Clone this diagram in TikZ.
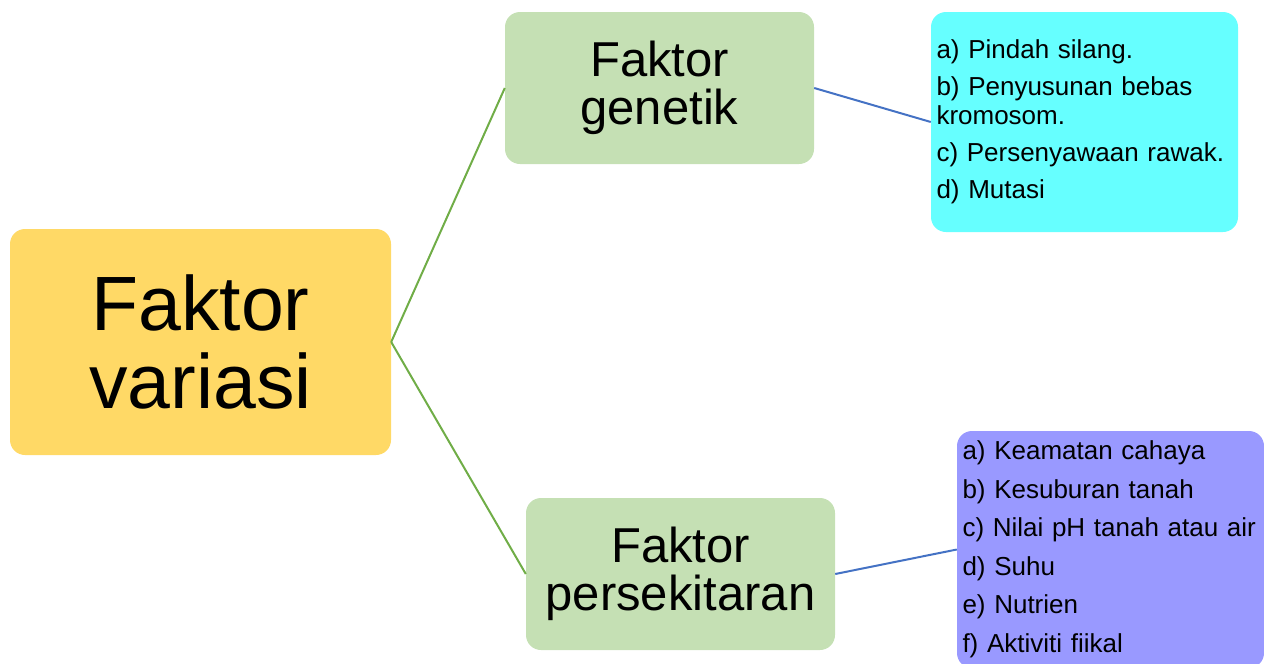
\documentclass[tikz,border=0pt]{standalone}
\usepackage{fontspec}
\setmainfont{Liberation Sans}
\usepackage{tikz}
\definecolor{mainFill}{HTML}{FFD966}
\definecolor{subFill}{HTML}{C5E0B4}
\definecolor{genFill}{HTML}{66FFFF}
\definecolor{envFill}{HTML}{9999FF}
\definecolor{lnGreen}{HTML}{70AD47}
\definecolor{lnBlue}{HTML}{4472C4}
\newcommand{\fsz}[2]{\fontsize{#1}{#2}\selectfont}
\begin{document}
\begin{tikzpicture}[x=1pt, y=-1pt, box/.style={rounded corners=15pt, inner sep=0pt, align=center}, lst/.style={rounded corners=15pt, inner xsep=5.5pt, inner ysep=0pt, align=left, text width=296pt}, lnk/.style={line width=2pt}]
\useasboundingbox (0,0) rectangle (1264,664);
\node[box, fill=mainFill, minimum width=381pt, minimum height=226pt, font=\fsz{77}{78}] (var) at (200.5,342) {Faktor\\variasi};
\node[box, fill=subFill, minimum width=309pt, minimum height=152pt, font=\fsz{49}{48}] (gen) at (659.5,88) {Faktor\\genetik};
\node[box, fill=subFill, minimum width=309pt, minimum height=152pt, font=\fsz{49}{48}] (env) at (680.5,574) {Faktor\\persekitaran};
\node[lst, fill=genFill, minimum height=220pt, font=\fsz{26}{29}] (genl) at (1084.5,122) {a) Pindah silang.\\[8pt]b) Penyusunan bebas\\kromosom.\\[8pt]c) Persenyawaan rawak.\\[8pt]d) Mutasi};
\node[lst, fill=envFill, minimum height=237pt, font=\fsz{26}{38.5}] (envl) at (1110.5,549.5) {a) Keamatan cahaya\\b) Kesuburan tanah\\c) Nilai pH tanah atau air\\d) Suhu\\e) Nutrien\\f) Aktiviti fiikal};
\draw[lnk, lnGreen] (var.east) -- (gen.west);
\draw[lnk, lnGreen] (var.east) -- (env.west);
\draw[lnk, lnBlue] (gen.east) -- (genl.west);
\draw[lnk, lnBlue] (env.east) -- (envl.west);
\end{tikzpicture}
\end{document}
